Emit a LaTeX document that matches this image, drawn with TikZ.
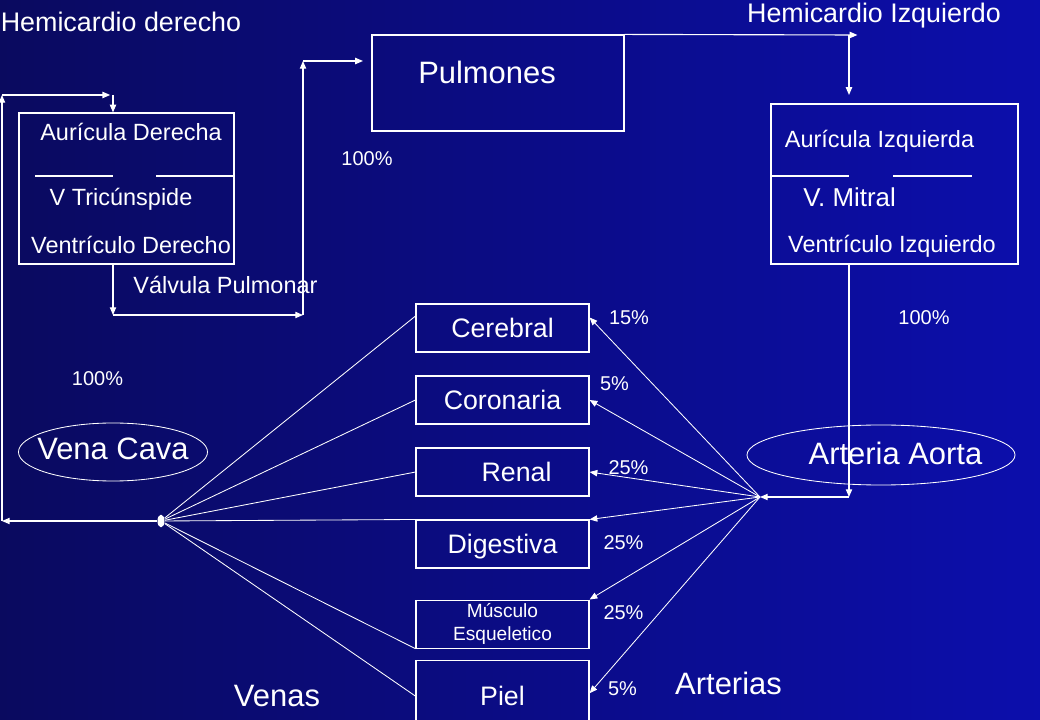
\documentclass[tikz,border=0pt]{standalone}
\usepackage{fontspec}
\setmainfont{Liberation Sans}
\usetikzlibrary{shapes.geometric,arrows.meta,positioning}

\definecolor{slidedark}{RGB}{10,10,95}
\definecolor{slideblue}{RGB}{12,14,172}

\begin{document}
\begin{tikzpicture}[
    x=0.025cm, y=-0.025cm,
    node distance=1.8cm,
    >={Triangle[length=5.5pt,width=4.5pt]},
    line width=0.8pt,
    white,
    title node/.style={inner sep=0pt,text height=13.8pt,text depth=0pt,font=\fontsize{19.1}{23}\selectfont},
    big node/.style={inner sep=0pt,text height=15.8pt,text depth=0pt,font=\fontsize{22}{26}\selectfont},
    heart node/.style={inner sep=0pt,text height=12pt,text depth=0pt,font=\fontsize{16.7}{20}\selectfont},
    pct node/.style={inner sep=0pt,text height=10.2pt,text depth=0pt,font=\fontsize{14.2}{17}\selectfont},
    heart box/.style={rectangle,draw,inner sep=0pt},
    organ node/.style={rectangle,draw,minimum width=4.325cm,minimum height=1.2cm,inner sep=0pt,text height=13.7pt,text depth=0pt,font=\fontsize{19}{23}\selectfont},
    vessel node/.style={ellipse,draw,line width=0.6pt,inner sep=0pt},
    hub node/.style={ellipse,fill,minimum width=5pt,minimum height=9pt,inner sep=0pt},
    vein/.style={line width=0.6pt},
    artery/.style={->,line width=0.6pt}
]

% Background
\useasboundingbox (0,0) rectangle (1040,720);
\clip (0,0) rectangle (1040,720);
\shade[left color=slidedark,right color=slideblue] (0,0) rectangle (1040,720);

% Titles
\node[title node] (hemider) at (121,22) {Hemicardio derecho};
\node[title node] (hemiizq) at (874,13) {Hemicardio Izquierdo};

% Lungs
\node[heart box,minimum width=6.3cm,minimum height=2.4cm,
      label={[big node,xshift=-7.8pt,yshift=7.8pt]center:Pulmones}] (pulmones) at (498,83) {};

% Right heart
\node[heart box,minimum width=5.375cm,minimum height=3.775cm] (cderecho) at (126.5,188.5) {};
\node[heart node] (auricd) at (131,132) {Aurícula Derecha};
\node[heart node] (tricusp) at (121,197) {V Tricúnspide};
\node[heart node] (ventd) at (131,245) {Ventrículo Derecho};
\draw (35,176) -- (113,176) (156,176) -- (234,176);

% Left heart
\node[heart box,minimum width=6.175cm,minimum height=4cm] (cizquierdo) at (894.5,184) {};
\node[heart node] (aurici) at (879.5,139) {Aurícula Izquierda};
\node[inner sep=0pt,text height=13.2pt,text depth=0pt,font=\fontsize{18.4}{22}\selectfont] (mitral) at (849.5,197) {V. Mitral};
\node[heart node] (venti) at (892,244) {Ventrículo Izquierdo};
\draw (771,176) -- (849,176) (893,176) -- (972,176);

% Labels
\node[heart node] (valvpulm) at (225.5,285) {Válvula Pulmonar};
\node[pct node] (pulm100) at (367,158) {100\%};
\node[pct node] (cava100) at (97.5,378) {100\%};
\node[pct node] (aorta100) at (924,317) {100\%};

% Vessels
\node[vessel node,minimum width=4.725cm,minimum height=1.45cm,
      label={[big node,yshift=2.8pt]center:Vena Cava}] (cava) at (113,452) {};
\node[vessel node,minimum width=6.7cm,minimum height=1.5cm,
      label={[big node,xshift=10.3pt,yshift=1.4pt]center:Arteria Aorta}] (aorta) at (881,455) {};

% Organs
\node[organ node] (cerebral) at (502.5,328) {Cerebral};
\node[organ node,below of=cerebral] (coronaria) {Coronaria};
\node[organ node,below of=coronaria] (renal) {\hspace*{20pt}Renal};
\node[organ node,below of=renal] (digestiva) {Digestiva};
\node[organ node,below of=digestiva,yshift=-0.2cm,align=center,text height=,text depth=,
      font=\fontsize{13.6}{16.3}\selectfont] (musculo) {Músculo\\Esqueletico};
\node[organ node,below of=musculo,minimum height=1.8cm] (piel) {Piel};

% Percentages
\node[pct node] (pcerebral) at (629,317) {15\%};
\node[pct node] (pcoronaria) at (614.5,383) {5\%};
\node[pct node] (prenal) at (628.5,467) {25\%};
\node[pct node] (pdigestiva) at (623.5,542) {25\%};
\node[pct node] (pmusculo) at (623.5,612) {25\%};
\node[pct node] (ppiel) at (622.5,688) {5\%};
\node[big node] (arterias) at (728.5,683) {Arterias};
\node[big node] (venas) at (277,695) {Venas};

% Hub
\node[hub node] (hub) at (161,521) {};

% Corners
\coordinate (cavaend) at (2,521);
\coordinate (cavatop) at (2,95);
\coordinate (aurin) at (113,95);
\coordinate (valvout) at (113,315);
\coordinate (pulmup) at (303,315);
\coordinate (pulmin) at (303,61);
\coordinate (venpulm) at (849,35);
\coordinate (aortdown) at (849,497);
\coordinate (artsplit) at (760,497);

% Circulation
\draw[->] (hub) -- (cavaend);
\draw[->] (cavaend) -- (cavatop);
\draw[->] (cavatop) -- ([xshift=-2pt]aurin);
\draw[->] (aurin) -- (aurin |- cderecho.north);
\draw[->] (valvout |- cderecho.south) -- (valvout);
\draw[->] (valvout) -- (pulmup);
\draw[->] (pulmup) -- (pulmin);
\draw[->,shorten >=6pt] (pulmin) -- (pulmin -| pulmones.west);
\draw[->] (pulmones.north east) -- ([xshift=6pt]venpulm);
\draw[->,shorten >=6pt] (venpulm) -- (venpulm |- cizquierdo.north);
\draw[->] (venpulm |- cizquierdo.south) -- (aortdown);
\draw[->] (aortdown) -- (artsplit);

% Arteries
\draw[artery] (artsplit) -- ([yshift=-10pt]cerebral.north east);
\draw[artery] (artsplit) -- (coronaria.east);
\draw[artery] (artsplit) -- (renal.east);
\draw[artery] (artsplit) -- (digestiva.north east);
\draw[artery] (artsplit) -- (musculo.north east);
\draw[artery] (artsplit) -- ([yshift=-24pt]piel.north east);

% Veins
\draw[vein] (hub) -- ([yshift=-9pt]cerebral.north west);
\draw[vein] (hub) -- (coronaria.west);
\draw[vein] (hub) -- (renal.west);
\draw[vein] (hub) -- (digestiva.north west);
\draw[vein] (hub) -- (musculo.south west);
\draw[vein] (hub) -- ([yshift=-26pt]piel.north west);

\end{tikzpicture}
\end{document}
